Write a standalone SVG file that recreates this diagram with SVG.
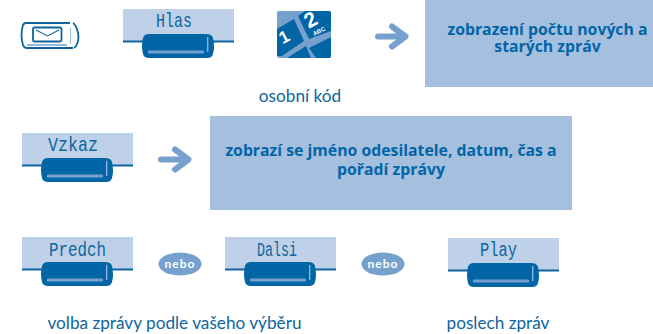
<svg xmlns="http://www.w3.org/2000/svg" width="653" height="334" viewBox="0 0 653 334">
<style>
.cap{font-family:"Lato","Open Sans",sans-serif;font-size:17.2px;fill:#0e659f;text-anchor:middle}
.box{fill:#a5bfdf}
.boxt{font-family:"Open Sans","Lato",sans-serif;font-size:15.800px;font-weight:700;fill:#0265a6;text-anchor:middle}
.lcd{font-family:"Liberation Mono",monospace;font-size:20px;fill:#0e659f;text-anchor:middle}
.neb{fill:#76a1cf}
.nebt{font-family:"Lato","Open Sans",sans-serif;font-size:12px;font-weight:700;fill:#fff;text-anchor:middle;letter-spacing:1px}
.arr{fill:none;stroke:#76a1cf;stroke-width:6;stroke-linecap:round;stroke-linejoin:round}
.kp{fill:#0265a6}
.kt{font-family:"Liberation Sans",sans-serif;font-weight:700;fill:#fff;text-anchor:middle}
</style>
<defs>
<g id="softkey">
<rect x="0" y="0" width="111" height="32" fill="#bed1e8"/>
<rect x="0" y="31.500" width="111" height="2" fill="#0e659f"/>
<path d="M26 25h57q6 0 7 4q2 9 0 16q-1 4-6 4h-58q-5 0-6-4q-2-8 0-16q1-4 6-4z" fill="#0265a6"/>
<rect x="25" y="41.500" width="56" height="3" rx="1" fill="#76a1cf"/>
<rect x="84" y="28" width="1.400" height="15" fill="#8fb2d8"/>
</g>
</defs>
<g id="mail-icon" fill="none" stroke="#0e659f">
<path d="M70 23H26q-2 0-3 2q-3 10 0 20q1 3 4 3H73" stroke-width="1.800"/>
<path d="M73 23q2 1 4 6q3 9 0 15q-1 3-3 4" stroke-width="1.800"/>
<rect x="33" y="27.500" width="28.500" height="14" rx="1.500" stroke-width="1.800"/>
<path d="M36 30l11.500 6l11.500-6" stroke-width="1.100"/>
<path d="M27 45h40" stroke="#76a1cf" stroke-width="1.500"/>
<path d="M70.500 28v16" stroke="#a5bfdf" stroke-width="1.200"/>
</g>
<g id="key-hlas"><use href="#softkey" x="123" y="9"/><text class="lcd" x="174" y="27" textLength="36" lengthAdjust="spacingAndGlyphs">Hlas</text></g>
<g id="keypad">
<rect x="277" y="11" width="54" height="47" rx="2" fill="#76a1cf"/>
<path class="kp" d="M277 29L294 19L304 41L282 56L277 56z"/>
<path class="kp" d="M298 16L305 11H329Q331 11 331 13V31L309 39z"/>
<path class="kp" d="M287 58L306 46L311 58z"/>
<path class="kp" d="M309 48L331 37V56Q331 58 329 58H316z"/>
<text class="kt" x="287" y="42" font-size="17" transform="rotate(-28 287 42)">1</text>
<text class="kt" x="314" y="26" font-size="21" transform="rotate(-28 314 26)">2</text>
<text class="kt" x="320" y="33" font-size="6" transform="rotate(-28 320 33)">ABC</text>
</g>
<text class="cap" x="300" y="102">osobní kód</text>
<g id="connectors">
<path class="arr" d="M378 36.500H404M392 26.500L405.500 36.500L392 46.500"/>
<path class="arr" d="M161 159.500H187M175 149.500L188.500 159.500L175 169.500"/>
</g>
<g id="info-1"><rect class="box" x="425" y="0" width="228" height="87"/>
<text class="boxt"><tspan x="547.500" y="35">zobrazení počtu nových a</tspan><tspan x="547.500" y="52">starých zpráv</tspan></text></g>
<g id="key-vzkaz"><use href="#softkey" x="22" y="133"/><text class="lcd" x="73" y="151" textLength="50" lengthAdjust="spacingAndGlyphs">Vzkaz</text></g>
<g id="info-2"><rect class="box" x="210" y="116" width="362" height="94"/>
<text class="boxt"><tspan x="391" y="156">zobrazí se jméno odesilatele, datum, čas a</tspan><tspan x="391" y="175">pořadí zprávy</tspan></text></g>
<g id="key-predch"><use href="#softkey" x="22" y="237"/><text class="lcd" x="77.500" y="256" textLength="57" lengthAdjust="spacingAndGlyphs">Predch</text></g>
<g id="or-1"><ellipse class="neb" cx="180" cy="264" rx="21.500" ry="11.500"/><text class="nebt" x="180" y="268">nebo</text></g>
<g id="key-dalsi"><use href="#softkey" x="225" y="237"/><text class="lcd" x="277" y="256" textLength="40" lengthAdjust="spacingAndGlyphs">Dalsi</text></g>
<g id="or-2"><ellipse class="neb" cx="383" cy="264" rx="21.500" ry="11.500"/><text class="nebt" x="383" y="268">nebo</text></g>
<g id="key-play"><use href="#softkey" x="448" y="238"/><text class="lcd" x="498.500" y="256" textLength="37" lengthAdjust="spacingAndGlyphs">Play</text></g>
<text class="cap" x="174.500" y="329">volba zprávy podle vašeho výběru</text>
<text class="cap" x="498" y="329">poslech zpráv</text>
</svg>
